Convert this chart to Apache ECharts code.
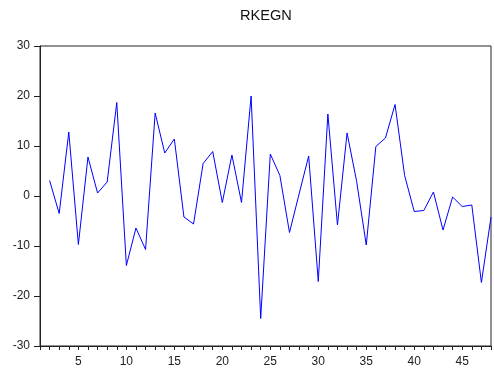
<!DOCTYPE html>
<html>
<head>
<meta charset="utf-8">
<script src="https://cdn.jsdelivr.net/npm/echarts@6/dist/echarts.min.js"></script>
<style>
  html, body { margin: 0; padding: 0; background: #fff; }
  #chart { width: 494px; height: 376px; }
</style>
</head>
<body>
<div id="chart"></div>
<script>
// Observation index (2..48) and RKEGN values
const obs = [2,3,4,5,6,7,8,9,10,11,12,13,14,15,16,17,18,19,20,21,22,23,24,25,
             26,27,28,29,30,31,32,33,34,35,36,37,38,39,40,41,42,43,44,45,46,47,48];
const rkegn = [3.1,-3.5,12.8,-9.7,7.8,0.6,2.8,18.7,-13.9,-6.4,-10.7,16.6,8.6,11.4,-4.2,
               -5.6,6.5,8.9,-1.3,8.2,-1.3,20.0,-24.5,8.4,4.1,-7.3,0.4,8.0,-17.1,16.4,
               -5.8,12.6,2.9,-9.8,9.9,11.6,18.3,4.1,-3.1,-2.9,0.8,-6.8,-0.2,-2.1,-1.8,-17.3,-4.2];
const yTicks = [-30,-20,-10,0,10,20,30];
const xLabelStep = 5;

const font = '"Liberation Sans", Arial, sans-serif';
const chart = echarts.init(document.getElementById('chart'), null, { renderer: 'canvas' });
chart.setOption({
  animation: false,
  backgroundColor: '#fff',
  title: {
    text: 'RKEGN',
    // sits centred over the plot area
    left: 240, top: 8, padding: 0,
    textStyle: { fontFamily: font, fontSize: 14.6, fontWeight: 'normal', color: '#111' }
  },
  grid: {
    left: 40, right: 2, top: 46, bottom: 30,
    show: true, borderColor: '#222', borderWidth: 1, backgroundColor: '#fff'
  },
  xAxis: {
    type: 'value', min: 1, max: 48, interval: 1,
    axisLine: { show: true, onZero: false, lineStyle: { color: '#222', width: 1 } },
    axisTick: { show: true, length: 4, lineStyle: { color: '#222' } },
    axisLabel: {
      fontFamily: font, fontSize: 12, color: '#222', margin: 10, hideOverlap: false,
      formatter: v => (v % xLabelStep === 0 ? String(v) : '')
    },
    splitLine: { show: false }
  },
  yAxis: {
    type: 'value', min: yTicks[0], max: yTicks[yTicks.length - 1], interval: 10,
    axisLine: { show: true, lineStyle: { color: '#222', width: 1 } },
    axisTick: { show: true, length: 6, lineStyle: { color: '#222' } },
    axisLabel: { fontFamily: font, fontSize: 12, color: '#222', margin: 10 },
    splitLine: { show: false }
  },
  series: [{
    type: 'line',
    data: obs.map((x, i) => [x, rkegn[i]]),
    showSymbol: false,
    lineStyle: { color: '#0000ff', width: 1 },
    itemStyle: { color: '#0000ff' }
  }]
});
</script>
</body>
</html>
